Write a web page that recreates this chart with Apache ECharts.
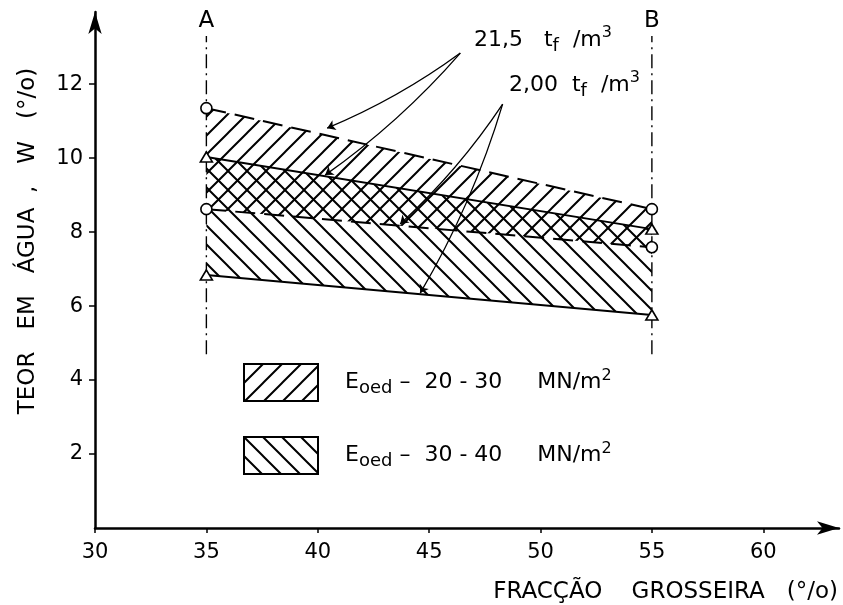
<!DOCTYPE html>
<html>
<head>
<meta charset="utf-8">
<script src="https://cdn.jsdelivr.net/npm/echarts@6/dist/echarts.min.js"></script>
<style>
  html, body { margin: 0; padding: 0; background: #fff; }
  #chart { width: 843px; height: 605px; }
</style>
</head>
<body>
<div id="chart"></div>
<script>
// ---------------- data ----------------
const xTickValues = [30, 35, 40, 45, 50, 55, 60];
const yTickValues = [2, 4, 6, 8, 10, 12];
const sectionX = [35, 55];           // sections A and B (fracção grosseira, %)
const sectionNames = ['A', 'B'];
const sectionY = [4.7, 13.3];        // extent of the section lines (teor em água, %)

// E_oed 20-30 MN/m2 band (dashed limits, circles)
const upper215Dashed = [11.35, 8.62]; // 21,5 t_f/m3
const lower200Dashed = [8.62, 7.59];  // 2,00 t_f/m3
// E_oed 30-40 MN/m2 band (solid limits, triangles)
const upper215Solid = [10.03, 8.08];  // 21,5 t_f/m3
const lower200Solid = [6.84, 5.76];   // 2,00 t_f/m3

// annotation leaders (label anchor -> targets) in data units
const arrow215From = [46.4, 12.84];
const arrow215To = [[40.42, 10.81], [40.33, 9.54]];
const arrow200From = [48.3, 11.46];
const arrow200To = [[43.7, 8.22], [44.6, 6.35]];

const band1Name = 'Eoed 20-30';
const band2Name = 'Eoed 30-40';

// ---------------- helpers ----------------
const FONT = 'DejaVu Sans';
function hatch(dir, s, lw) {
  const c = document.createElement('canvas');
  c.width = s; c.height = s;
  const ctx = c.getContext('2d');
  ctx.strokeStyle = '#000';
  ctx.lineWidth = lw;
  ctx.beginPath();
  if (dir === '/') {
    ctx.moveTo(0, s); ctx.lineTo(s, 0);
    ctx.moveTo(-2, 2); ctx.lineTo(2, -2);
    ctx.moveTo(s - 2, s + 2); ctx.lineTo(s + 2, s - 2);
  } else {
    ctx.moveTo(0, 0); ctx.lineTo(s, s);
    ctx.moveTo(-2, s - 2); ctx.lineTo(2, s + 2);
    ctx.moveTo(s - 2, -2); ctx.lineTo(s + 2, 2);
  }
  ctx.stroke();
  return { image: c, repeat: 'repeat' };
}
const patFwd = hatch('/', 19, 2);
const patBack = hatch('\\', 19, 2);

function pairs(xs, ys) { return xs.map((x, i) => [x, ys[i]]); }
function bandData(up, lo) { return sectionX.map((x, i) => [x, up[i], lo[i]]); }

function bandRender(params, api) {
  if (params.dataIndexInside !== 0) return null;
  const n = params.dataInsideLength;
  const top = [], bot = [];
  for (let i = 0; i < n; i++) {
    top.push(api.coord([api.value(0, i), api.value(1, i)]));
    bot.push(api.coord([api.value(0, i), api.value(2, i)]));
  }
  return {
    type: 'polygon',
    shape: { points: top.concat(bot.reverse()) },
    style: { fill: api.visual('color'), stroke: null }
  };
}

function boundary(name, ys, dashed, symbol) {
  return {
    type: 'line', name: name,
    data: pairs(sectionX, ys),
    symbol: symbol, symbolSize: symbol === 'circle' ? 11 : [12, 10],
    showSymbol: true,
    lineStyle: { color: '#000', width: 2, type: dashed ? [20, 9] : 'solid' },
    itemStyle: { color: '#fff', borderColor: '#000', borderWidth: 1.6 },
    z: 5, silent: true
  };
}

const sectionSeries = sectionX.map((x, i) => ({
  type: 'line', name: 'section ' + sectionNames[i],
  data: [
    { value: [x, sectionY[0]], label: { show: false } },
    { value: [x, sectionY[1]],
      label: { show: true, position: 'top', distance: 3, formatter: sectionNames[i],
               fontFamily: FONT, fontSize: 23, color: '#000' } }
  ],
  symbol: 'circle', symbolSize: 1, showSymbol: true,
  itemStyle: { color: 'rgba(0,0,0,0)' },
  lineStyle: { color: '#000', width: 1.4, type: [14, 5, 2, 5] },
  z: 3, silent: true
}));

const leaders = {
  type: 'lines', coordinateSystem: 'cartesian2d', name: 'leaders',
  data: arrow215To.map(t => ({ coords: [arrow215From, t] }))
    .concat(arrow200To.map(t => ({ coords: [arrow200From, t] }))),
  symbol: ['none', 'arrow'], symbolSize: 8,
  lineStyle: { color: '#000', width: 1.3, curveness: 0.06, opacity: 1 },
  z: 6, silent: true
};

const richTxt = {
  m: { fontFamily: FONT, fontSize: 22, color: '#000', lineHeight: 30 },
  s: { fontFamily: FONT, fontSize: 18, color: '#000', lineHeight: 18, verticalAlign: 'bottom' },
  p: { fontFamily: FONT, fontSize: 16, color: '#000', lineHeight: 16, verticalAlign: 'top' }
};

const chart = echarts.init(document.getElementById('chart'), null, { renderer: 'canvas' });
chart.setOption({
  animation: false,
  backgroundColor: '#fff',
  grid: { left: 95, right: 4, top: 12, bottom: 77, containLabel: false },
  xAxis: {
    type: 'value', min: 30, max: 63.4, interval: 5,
    splitLine: { show: false },
    axisLine: { show: true, lineStyle: { color: '#000', width: 2.5 },
                symbol: ['none', 'arrow'], symbolSize: [10, 22] },
    axisTick: { show: true, length: 5, inside: false, lineStyle: { color: '#000', width: 1.5 },
                customValues: xTickValues },
    axisLabel: { fontFamily: FONT, fontSize: 21, color: '#000', margin: 14,
                 customValues: xTickValues }
  },
  yAxis: {
    type: 'value', min: 0, max: 13.95, interval: 2,
    splitLine: { show: false },
    axisLine: { show: true, lineStyle: { color: '#000', width: 2.5 },
                symbol: ['none', 'arrow'], symbolSize: [10, 22] },
    axisTick: { show: true, length: 6, inside: false, lineStyle: { color: '#000', width: 1.5 },
                customValues: yTickValues },
    axisLabel: { fontFamily: FONT, fontSize: 21, color: '#000', margin: 12,
                 customValues: yTickValues }
  },
  legend: {
    orient: 'vertical', left: 243, top: 363, padding: 0,
    itemWidth: 74, itemHeight: 37, itemGap: 34,
    icon: 'rect', selectedMode: false,
    data: [band1Name, band2Name],
    itemStyle: { borderColor: '#000', borderWidth: 2 },
    textStyle: { fontFamily: FONT, fontSize: 22, color: '#000', padding: [0, 0, 0, 22], rich: richTxt },
    formatter: function (name) {
      const rng = name === band1Name ? '20 - 30' : '30 - 40';
      return '{m|E}{s|oed}{m| –  ' + rng + '     MN/m}{p|2}';
    }
  },
  graphic: [
    { type: 'text', x: 28, y: 241, rotation: Math.PI / 2,
      style: { text: 'TEOR   EM   ÁGUA  ,   W   (°/o)', font: '23px "DejaVu Sans"', fill: '#000',
               align: 'center', verticalAlign: 'middle' } },
    { type: 'text', x: 838, y: 592,
      style: { text: 'FRACÇÃO    GROSSEIRA   (°/o)', font: '23px "DejaVu Sans"', fill: '#000',
               align: 'right', verticalAlign: 'middle' } },
    { type: 'text', x: 474, y: 40,
      style: { text: '{m|21,5   t}{s|f}{m|  /m}{p|3}', rich: richTxt, align: 'left', verticalAlign: 'middle' } },
    { type: 'text', x: 509, y: 85,
      style: { text: '{m|2,00  t}{s|f}{m|  /m}{p|3}', rich: richTxt, align: 'left', verticalAlign: 'middle' } }
  ],
  series: [
    { type: 'custom', name: band1Name, renderItem: bandRender,
      data: bandData(upper215Dashed, lower200Dashed),
      encode: { x: 0, y: [1, 2] },
      itemStyle: { color: patFwd }, z: 1, silent: true },
    { type: 'custom', name: band2Name, renderItem: bandRender,
      data: bandData(upper215Solid, lower200Solid),
      encode: { x: 0, y: [1, 2] },
      itemStyle: { color: patBack }, z: 1, silent: true },
    ...sectionSeries,
    boundary('21,5 dashed', upper215Dashed, true, 'circle'),
    boundary('2,00 dashed', lower200Dashed, true, 'circle'),
    boundary('21,5 solid', upper215Solid, false, 'triangle'),
    boundary('2,00 solid', lower200Solid, false, 'triangle'),
    leaders
  ]
});
</script>
</body>
</html>
